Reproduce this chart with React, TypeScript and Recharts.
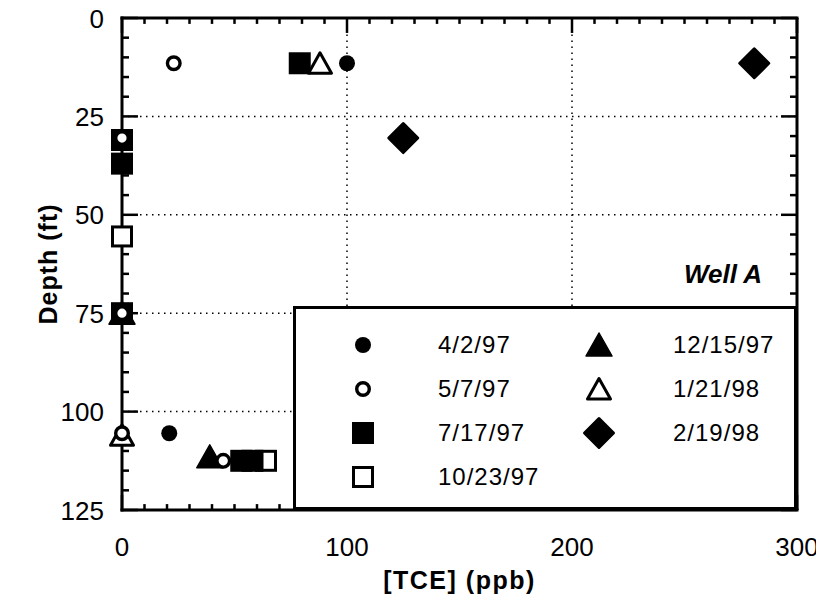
import React from "react"
import {
  ScatterChart,
  Scatter,
  XAxis,
  YAxis,
  ReferenceLine,
  Legend,
} from "recharts"

// TCE concentration (ppb) vs depth (ft), one array per sampling date
const apr2_97 = [
  { tce: 100, depth: 11.5 },
  { tce: 21, depth: 105.5 },
  { tce: 59, depth: 113 },
]
const may7_97 = [
  { tce: 23, depth: 11.5 },
  { tce: 0, depth: 30.5 },
  { tce: 0, depth: 75 },
  { tce: 0, depth: 105.5 },
  { tce: 45, depth: 112.5 },
]
const jul17_97 = [
  { tce: 79, depth: 11.5 },
  { tce: 0, depth: 31 },
  { tce: 0, depth: 37 },
  { tce: 0, depth: 75 },
  { tce: 53, depth: 112.5 },
  { tce: 58, depth: 112.5 },
]
const oct23_97 = [
  { tce: 0, depth: 55.5 },
  { tce: 64, depth: 112.5 },
]
const dec15_97 = [
  { tce: 0, depth: 75 },
  { tce: 39, depth: 111.5 },
]
const jan21_98 = [
  { tce: 88, depth: 11.5 },
  { tce: 0, depth: 106 },
]
const feb19_98 = [
  { tce: 281, depth: 11.5 },
  { tce: 125, depth: 30.5 },
]

const xLabels = [0, 100, 200, 300]
const yLabels = [0, 25, 50, 75, 100, 125]
const xTicks = Array.from({ length: 31 }, (_, i) => i * 10)
const yTicks = Array.from({ length: 26 }, (_, i) => i * 5)
const xGrid = [100, 200]
const yGrid = [25, 50, 75, 100]

const FONT = "'Liberation Sans', Arial, Helvetica, sans-serif"

type Kind = "dot" | "ring" | "square" | "box" | "tri" | "openTri" | "diamond"

const SERIES: { name: string; kind: Kind; data: { tce: number; depth: number }[] }[] = [
  { name: "4/2/97", kind: "dot", data: apr2_97 },
  { name: "5/7/97", kind: "ring", data: may7_97 },
  { name: "7/17/97", kind: "square", data: jul17_97 },
  { name: "10/23/97", kind: "box", data: oct23_97 },
  { name: "12/15/97", kind: "tri", data: dec15_97 },
  { name: "1/21/98", kind: "openTri", data: jan21_98 },
  { name: "2/19/98", kind: "diamond", data: feb19_98 },
]

// open markers go on top so their white centres show
const DRAW_ORDER = ["10/23/97", "7/17/97", "12/15/97", "1/21/98", "2/19/98", "4/2/97", "5/7/97"]

function Marker({ kind, cx, cy }: { kind: Kind; cx: number; cy: number }) {
  switch (kind) {
    case "dot":
      return <circle cx={cx} cy={cy} r={8} fill="#000" />
    case "ring":
      return <circle cx={cx} cy={cy} r={6.3} fill="#fff" stroke="#000" strokeWidth={3.4} />
    case "square":
      return <rect x={cx - 11} y={cy - 11} width={22} height={22} fill="#000" />
    case "box":
      return (
        <rect x={cx - 9.5} y={cy - 9.5} width={19} height={19} fill="#fff" stroke="#000" strokeWidth={3} />
      )
    case "tri":
      return (
        <path
          d={`M${cx},${cy - 12}L${cx + 13},${cy + 11}L${cx - 13},${cy + 11}Z`}
          fill="#000"
          stroke="#000"
          strokeWidth={1.5}
          strokeLinejoin="round"
        />
      )
    case "openTri":
      return (
        <path
          d={`M${cx},${cy - 10.5}L${cx + 11.5},${cy + 10}L${cx - 11.5},${cy + 10}Z`}
          fill="#fff"
          stroke="#000"
          strokeWidth={3}
          strokeLinejoin="round"
        />
      )
    case "diamond":
      return (
        <path
          d={`M${cx},${cy - 14.5}L${cx + 14.5},${cy}L${cx},${cy + 14.5}L${cx - 14.5},${cy}Z`}
          fill="#000"
          stroke="#000"
          strokeWidth={3}
          strokeLinejoin="round"
        />
      )
  }
}

const BottomLabel = (p: any) => (
  <text x={p.x} y={p.y + 46} textAnchor="middle" fontSize={26} fontFamily={FONT} fill="#000">
    {p.payload.value}
  </text>
)

const LeftLabel = (p: any) => (
  <text x={p.x - 18} y={p.y + 9.5} textAnchor="end" fontSize={26} fontFamily={FONT} fill="#000">
    {p.payload.value}
  </text>
)

const XTitle = (p: any) => {
  const vb = p.viewBox
  return (
    <text
      x={vb.x + vb.width / 2}
      y={vb.y + 79}
      textAnchor="middle"
      fontSize={25}
      fontWeight="bold"
      fontFamily={FONT}
      letterSpacing={1.5}
      fill="#000"
    >
      [TCE] (ppb)
    </text>
  )
}

const YTitle = (p: any) => {
  const vb = p.viewBox
  const cx = 57
  const cy = vb.y + vb.height / 2
  return (
    <text
      x={cx}
      y={cy}
      transform={`rotate(-90 ${cx} ${cy})`}
      textAnchor="middle"
      fontSize={25}
      fontWeight="bold"
      fontFamily={FONT}
      letterSpacing={1}
      fill="#000"
    >
      Depth (ft)
    </text>
  )
}

const COL1 = ["4/2/97", "5/7/97", "7/17/97", "10/23/97"]
const COL2 = ["12/15/97", "1/21/98", "2/19/98"]

function KeyBox() {
  const kindOf = (n: string) => SERIES.find((s) => s.name === n)!.kind
  const top = 56
  const rows = [39, 83, 127, 171]
  return (
    <svg width={504} height={260} style={{ display: "block" }}>
      <text
        x={469}
        y={33}
        textAnchor="end"
        fontSize={26}
        fontWeight="bold"
        fontStyle="italic"
        fontFamily={FONT}
        fill="#000"
      >
        Well A
      </text>
      <rect x={1.5} y={top + 1.5} width={501} height={201} fill="#fff" stroke="#000" strokeWidth={3} />
      {COL1.map((n, i) => (
        <g key={n}>
          <Marker kind={kindOf(n)} cx={70} cy={top + rows[i]} />
          <text x={145} y={top + rows[i] + 8} fontSize={24} fontFamily={FONT} letterSpacing={1} fill="#000">
            {n}
          </text>
        </g>
      ))}
      {COL2.map((n, i) => (
        <g key={n}>
          <Marker kind={kindOf(n)} cx={306} cy={top + rows[i]} />
          <text x={380} y={top + rows[i] + 8} fontSize={24} fontFamily={FONT} letterSpacing={1} fill="#000">
            {n}
          </text>
        </g>
      ))}
    </svg>
  )
}

// inward tick marks, lengths in data units (15px / 6px along depth, 16px / 7px along TCE)
const xTickLen = (v: number) => (v % 100 === 0 ? 3.8 : 1.5)
const yTickLen = (v: number) => (v % 25 === 0 ? 7.1 : 3.1)
const tickStyle = { stroke: "#000", strokeWidth: 2.5, ifOverflow: "visible" as const }

export default function App() {
  const axisLine = { stroke: "#000", strokeWidth: 3, strokeLinecap: "square" as const }
  return (
    <div style={{ width: 824, height: 611, margin: "-8px 0 0 -8px" }}>
      <ScatterChart width={824} height={611} margin={{ top: 0, right: 27, bottom: 0, left: 0 }}>
        <XAxis
          type="number"
          dataKey="tce"
          domain={[0, 300]}
          ticks={xLabels}
          interval={0}
          tickSize={0}
          tickMargin={0}
          tickLine={false}
          tick={<BottomLabel />}
          axisLine={axisLine}
          height={101}
          label={<XTitle />}
        />
        {/* top frame edge */}
        <XAxis
          xAxisId="top"
          orientation="top"
          type="number"
          dataKey="tce"
          domain={[0, 300]}
          ticks={xLabels}
          tick={false}
          tickLine={false}
          axisLine={axisLine}
          height={18}
        />
        <YAxis
          type="number"
          dataKey="depth"
          reversed
          domain={[0, 125]}
          ticks={yLabels}
          interval={0}
          tickSize={0}
          tickMargin={0}
          tickLine={false}
          tick={<LeftLabel />}
          axisLine={axisLine}
          width={122}
          label={<YTitle />}
        />
        {xGrid.map((v) => (
          <ReferenceLine key={`gx${v}`} x={v} stroke="#000" strokeWidth={1.5} strokeDasharray="1.5 4.5" />
        ))}
        {yGrid.map((v) => (
          <ReferenceLine key={`gy${v}`} y={v} stroke="#000" strokeWidth={1.5} strokeDasharray="1.5 4.5" />
        ))}
        <ReferenceLine x={300} stroke="#000" strokeWidth={3} ifOverflow="visible" />
        {xTicks.map((v) => (
          <ReferenceLine
            key={`tb${v}`}
            segment={[{ x: v, y: 125 }, { x: v, y: 125 - xTickLen(v) }]}
            {...tickStyle}
          />
        ))}
        {xTicks.map((v) => (
          <ReferenceLine
            key={`tt${v}`}
            segment={[{ x: v, y: 0 }, { x: v, y: xTickLen(v) }]}
            {...tickStyle}
          />
        ))}
        {yTicks.map((v) => (
          <ReferenceLine
            key={`tl${v}`}
            segment={[{ x: 0, y: v }, { x: yTickLen(v), y: v }]}
            {...tickStyle}
          />
        ))}
        {yTicks.map((v) => (
          <ReferenceLine
            key={`tr${v}`}
            segment={[{ x: 300, y: v }, { x: 300 - yTickLen(v), y: v }]}
            {...tickStyle}
          />
        ))}
        {DRAW_ORDER.map((name) => {
          const s = SERIES.find((d) => d.name === name)!
          return (
            <Scatter
              key={s.name}
              name={s.name}
              data={s.data}
              isAnimationActive={false}
              shape={(p: any) => <Marker kind={s.kind} cx={p.cx} cy={p.cy} />}
            />
          )
        })}
        <Legend
          layout="horizontal"
          verticalAlign="middle"
          align="center"
          content={() => <KeyBox />}
          wrapperStyle={{ position: "absolute", left: 293, top: 250, width: 504, height: 260 }}
        />
      </ScatterChart>
    </div>
  )
}
